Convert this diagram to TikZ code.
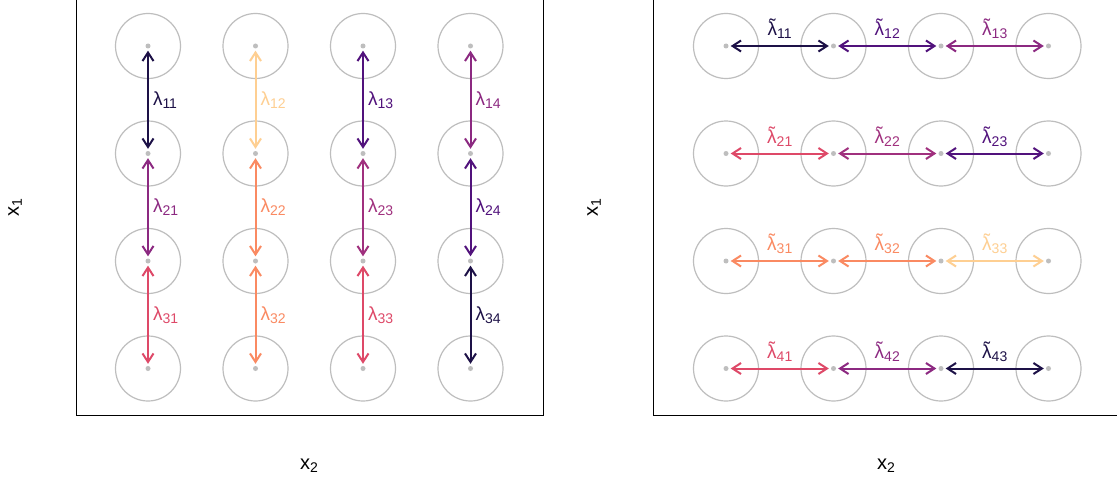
\documentclass[tikz,border=0pt]{standalone}
\usepackage{fontspec}
\setmainfont{Liberation Sans}
\usetikzlibrary{arrows.meta}
\definecolor{cA}{HTML}{1D1147}
\definecolor{cB}{HTML}{51127C}
\definecolor{cC}{HTML}{8C2981}
\definecolor{cCm}{HTML}{A0307E}
\definecolor{cD}{HTML}{DE4968}
\definecolor{cE}{HTML}{FA8A62}
\definecolor{cF}{HTML}{FECF92}
\definecolor{ringgray}{HTML}{BEBEBE}
\newcommand\lsub[1]{\raisebox{-3pt}{\fontsize{14}{14}\selectfont #1}}
\newcommand\lam[1]{λ\lsub{#1}}
\newcommand\tlam[1]{{\accent"02DC λ}\lsub{#1}}
\tikzset{
  ring/.style={circle, draw=ringgray, line width=1.2pt, minimum size=65pt, inner sep=0pt},
  pt/.style={circle, fill=ringgray, minimum size=5pt, inner sep=0pt},
  dbl/.style={draw=#1, text=#1, line width=2pt,
    {Straight Barb[length=8.5pt,width=11pt]}-{Straight Barb[length=8.5pt,width=11pt]},
    shorten <=2pt, shorten >=2pt},
  lab/.style={font=\fontsize{19}{21}\selectfont, inner sep=0pt},
  axlab/.style={font=\fontsize{20}{22}\selectfont, inner sep=0pt},
}
\begin{document}
\begin{tikzpicture}[x=1pt,y=-1pt]
\useasboundingbox (0,0) rectangle (1117,487);
\fill[white] (0,0) rectangle (1117,487);
\begin{scope}
\clip (0,0) rectangle (1117,487);
\draw[black, line width=1pt] (76.5,-10) rectangle (543,415);
\draw[black, line width=1pt] (653.5,-10) rectangle (1130,415);
\end{scope}
% grids
\foreach \i/\y in {1/46,2/153.5,3/261,4/368.5}{
  \foreach \j/\x in {1/148,2/255.5,3/363,4/470.5}{
    \node[ring] (lc\i\j) at (\x,\y) {};
    \node[pt] (l\i\j) at (\x,\y) {};
  }
  \foreach \j/\x in {1/726,2/833.5,3/941,4/1048.5}{
    \node[ring] (rc\i\j) at (\x,\y) {};
    \node[pt] (r\i\j) at (\x,\y) {};
  }
}
% left panel vertical arrows
\foreach \i/\k/\j/\c in {1/2/1/cA,1/2/2/cF,1/2/3/cB,1/2/4/cC,
                         2/3/1/cC,2/3/2/cE,2/3/3/cCm,2/3/4/cB,
                         3/4/1/cD,3/4/2/cE,3/4/3/cD,3/4/4/cA}{
  \draw[dbl=\c] (l\i\j) -- (l\k\j) node[midway, right=4pt, lab] {\lam{\i\j}};
}
% right panel horizontal arrows
\foreach \i/\j/\k/\c in {1/1/2/cA,1/2/3/cB,1/3/4/cC,
                         2/1/2/cD,2/2/3/cCm,2/3/4/cB,
                         3/1/2/cE,3/2/3/cE,3/3/4/cF,
                         4/1/2/cD,4/2/3/cC,4/3/4/cA}{
  \draw[dbl=\c] (r\i\j) -- (r\i\k) node[midway, above=6pt, lab] {\tlam{\i\j}};
}
% axis labels
\node[axlab, rotate=90] (ylabL) at (15,208) {x\lsub{1}};
\node[axlab] (xlabL) at (309,466) {x\lsub{2}};
\node[axlab, rotate=90] (ylabR) at (594,208) {x\lsub{1}};
\node[axlab] (xlabR) at (886,466) {x\lsub{2}};
\end{tikzpicture}
\end{document}
